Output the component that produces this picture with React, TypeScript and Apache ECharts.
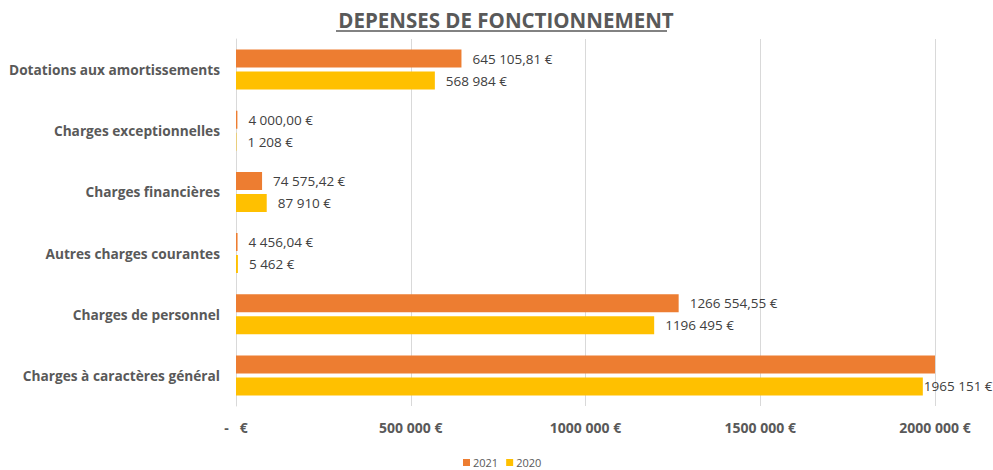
import React, { useEffect, useRef } from "react";
import * as echarts from "echarts";

const categories = [
  "Dotations aux amortissements",
  "Charges exceptionnelles",
  "Charges financières",
  "Autres charges courantes",
  "Charges de personnel",
  "Charges à caractères général",
];
const values2021 = [645105.81, 4000.0, 74575.42, 4456.04, 1266554.55, 2080000];
const values2020 = [568984, 1208, 87910, 5462, 1196495, 1965151];
const seriesNames = ["2021", "2020"];
const xTicks = [0, 500000, 1000000, 1500000, 2000000];

function fmt(v: number, decimals: number): string {
  const fixed = v.toFixed(decimals);
  const [intPart, dec] = fixed.split(".");
  const groups: string[] = [];
  let s = intPart;
  while (s.length > 3) {
    groups.unshift(s.slice(-3));
    s = s.slice(0, -3);
  }
  groups.unshift(s);
  let out = groups[0];
  for (let i = 1; i < groups.length; i++) {
    out += (groups.length === 3 && i === 1 ? "" : " ") + groups[i];
  }
  return dec ? out + "," + dec : out;
}

export default function App() {
  const ref = useRef<HTMLDivElement>(null);
  useEffect(() => {
    if (!ref.current) return;
    document.body.style.margin = "0";
    const chart = echarts.init(ref.current, undefined, { renderer: "svg" });
    const font = "'Open Sans', sans-serif";
    const labelStyle = {
      show: true,
      position: "right",
      distance: 11,
      color: "#404040",
      fontSize: 13.5,
      fontFamily: font,
    };
    chart.setOption({
      animation: false,
      title: {
        text: "DEPENSES DE FONCTIONNEMENT",
        left: 501,
        textAlign: "center",
        top: 4,
        textStyle: { color: "#595959", fontSize: 20.5, fontWeight: "bold", fontFamily: font },
      },
      graphic: [
        { type: "line", shape: { x1: 336, y1: 31, x2: 667, y2: 31 }, style: { stroke: "#595959", lineWidth: 1.5 } },
      ],
      legend: {
        data: seriesNames,
        top: 452,
        left: 458,
        itemWidth: 7,
        itemHeight: 7,
        itemGap: 8,
        icon: "rect",
        textStyle: { color: "#595959", fontSize: 11, fontFamily: font, padding: [0, 0, 0, -2] },
      },
      grid: { left: 236, right: 58, top: 39, bottom: 64, containLabel: false },
      xAxis: {
        type: "value",
        min: xTicks[0],
        max: xTicks[xTicks.length - 1],
        interval: xTicks[1] - xTicks[0],
        axisLine: { show: false },
        axisTick: { show: false },
        splitLine: { lineStyle: { color: "#d9d9d9", width: 1 } },
        axisLabel: {
          margin: 14,
          color: "#595959",
          fontSize: 14,
          fontWeight: "bold",
          fontFamily: font,
          formatter: (v: number) => (v === 0 ? "-   €" : fmt(v, 0) + " €"),
        },
      },
      yAxis: {
        type: "category",
        data: categories,
        inverse: true,
        axisLine: { show: true, lineStyle: { color: "#d9d9d9" } },
        axisTick: { show: false },
        axisLabel: {
          margin: 16,
          color: "#595959",
          fontSize: 13.7,
          fontWeight: "bold",
          fontFamily: font,
        },
      },
      series: [
        {
          name: seriesNames[0],
          type: "bar",
          barWidth: 18,
          barGap: "22%",
          itemStyle: { color: "#ED7D31" },
          label: { ...labelStyle, formatter: (p: any) => fmt(p.value, 2) + " €" },
          data: values2021.map((v) => (v > 2000000 ? { value: v, label: { show: false } } : v)),
        },
        {
          name: seriesNames[1],
          type: "bar",
          barWidth: 18,
          barGap: "22%",
          itemStyle: { color: "#FFC000" },
          label: { ...labelStyle, formatter: (p: any) => fmt(p.value, 0) + " €" },
          data: values2020.map((v) => (v > 1900000 ? { value: v, label: { distance: 1 } } : v)),
        },
      ],
    });
    return () => chart.dispose();
  }, []);
  return <div ref={ref} style={{ width: 993, height: 470 }} />;
}
